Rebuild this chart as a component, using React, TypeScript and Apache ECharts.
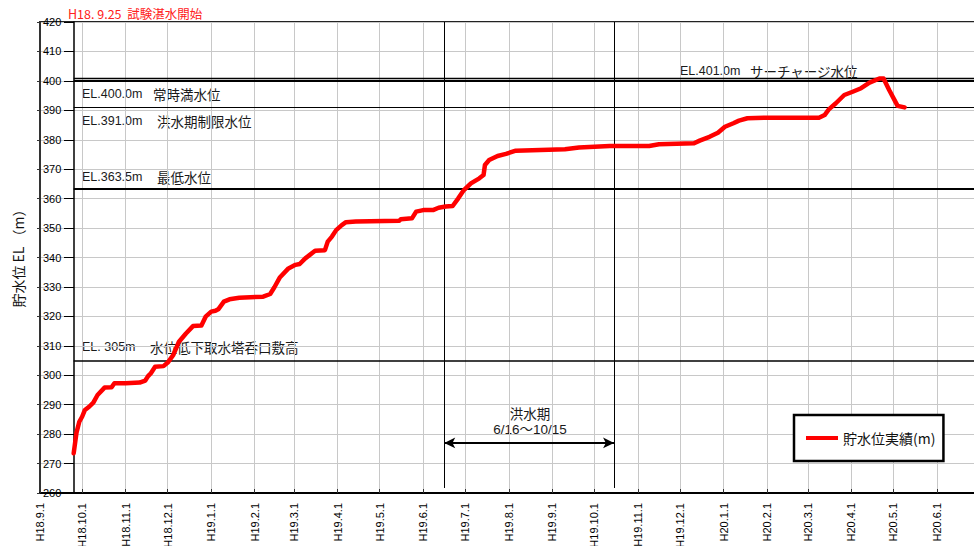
import React, { useEffect, useRef } from "react";
import * as echarts from "echarts";

// ---- data ----
const obsDates = [
  "2006-09-25", "2006-09-27", "2006-09-29", "2006-10-01", "2006-10-03", "2006-10-06", "2006-10-09",
  "2006-10-12", "2006-10-17", "2006-10-22", "2006-10-24", "2006-11-01", "2006-11-11", "2006-11-15",
  "2006-11-17", "2006-11-19", "2006-11-22", "2006-11-28", "2006-12-01", "2006-12-05", "2006-12-09",
  "2006-12-14", "2006-12-19", "2006-12-25", "2006-12-28", "2007-01-01", "2007-01-04", "2007-01-06",
  "2007-01-10", "2007-01-14", "2007-01-21", "2007-02-07", "2007-02-12", "2007-02-15", "2007-02-19",
  "2007-02-25", "2007-03-02", "2007-03-05", "2007-03-09", "2007-03-12", "2007-03-16", "2007-03-23",
  "2007-03-25", "2007-03-28", "2007-03-31", "2007-04-04", "2007-04-07", "2007-04-14", "2007-05-15",
  "2007-05-16", "2007-05-24", "2007-05-27", "2007-06-01", "2007-06-08", "2007-06-12", "2007-06-17",
  "2007-06-22", "2007-06-26", "2007-06-30", "2007-07-05", "2007-07-11", "2007-07-14", "2007-07-15",
  "2007-07-18", "2007-07-24", "2007-07-30", "2007-08-06", "2007-09-10", "2007-09-20", "2007-10-12",
  "2007-11-09", "2007-11-16", "2007-12-11", "2007-12-15", "2007-12-22", "2007-12-28", "2008-01-02",
  "2008-01-08", "2008-01-12", "2008-01-18", "2008-01-31", "2008-03-09", "2008-03-13", "2008-03-16",
  "2008-03-21", "2008-03-27", "2008-04-02", "2008-04-08", "2008-04-14", "2008-04-21", "2008-04-24",
  "2008-04-28", "2008-05-04", "2008-05-09",
];
const obsLevels = [
  273.5, 280.5, 284.2, 285.9, 288.2, 289.3, 290.7,
  293.3, 295.8, 295.9, 297.3, 297.3, 297.5, 298.2,
  299.7, 300.7, 302.9, 303.1, 304.3, 306.9, 311.4,
  314.2, 316.7, 316.9, 319.9, 321.6, 321.9, 322.4,
  325.0, 325.8, 326.3, 326.7, 327.6, 329.9, 333.3,
  336.3, 337.5, 337.8, 339.7, 340.8, 342.3, 342.5,
  345.4, 347.1, 349.3, 351.0, 352.0, 352.2, 352.5,
  353.0, 353.3, 355.6, 356.1, 356.1, 356.9, 357.3,
  357.5, 360.1, 362.9, 365.2, 366.9, 368.0, 371.4,
  373.1, 374.5, 375.2, 376.3, 376.8, 377.4, 377.9,
  377.9, 378.5, 378.8, 379.7, 381.0, 382.4, 384.4,
  385.6, 386.5, 387.3, 387.5, 387.5, 388.4, 390.3,
  392.4, 395.2, 396.3, 397.5, 399.4, 400.8, 400.8,
  396.9, 391.5, 391.0,
];
const seriesName = "貯水位実績(m)";
const axisStart = "2006-09-01";
const axisEnd = "2008-07-01";
const lastLabelDate = "2008-06-01";
const impoundStart = "2006-09-25";
const floodStart = "2007-06-16";
const floodEnd = "2007-10-15";
const levelValues = [401.0, 400.0, 391.0, 363.5, 305.0];
const levelWidths = [1.3, 2, 1, 2, 1.5];
const yMin = 260;
const yMax = 420;
const yStep = 10;
const arrowLevel = 277;
const floodLineBottom = 261.7;

const DAY = 86400000;
const ts = (s: string) => Date.parse(s + "T00:00:00Z");

const LATIN = 'Arial, "Liberation Sans", "Noto Sans CJK JP", sans-serif';
const CJK = '"Noto Sans CJK JP", "Noto Sans CJK SC", sans-serif';

export default function App() {
  const ref = useRef<HTMLDivElement>(null);

  useEffect(() => {
    if (!ref.current) return;
    const chart = echarts.init(ref.current, undefined, { renderer: "svg" });

    const lineData = obsDates.map((d, i) => [ts(d), obsLevels[i]]);

    const levelLines = levelValues.map((v, i) => [
      { coord: [ts(impoundStart), v], lineStyle: { width: levelWidths[i], color: "#000", type: "solid" } },
      { coord: [ts(axisEnd), v] },
    ]);
    const floodLines = [floodStart, floodEnd].map((d) => [
      { coord: [ts(d), yMax], lineStyle: { width: 1, color: "#000", type: "solid" } },
      { coord: [ts(d), floodLineBottom] },
    ]);
    const arrowLine = [
      {
        coord: [ts(floodStart), arrowLevel],
        symbol: "arrow",
        symbolSize: [8, 11],
        lineStyle: { width: 2, color: "#000", type: "solid" },
      },
      { coord: [ts(floodEnd), arrowLevel], symbol: "arrow", symbolSize: [8, 11] },
    ];

    const ann = (x: number, y: number, text: string, font: string, size: number, color = "#1a1a1a", align = "left") => ({
      type: "text",
      x,
      y,
      silent: true,
      style: { text, fill: color, font: `${size}px ${font}`, textAlign: align, textVerticalAlign: "middle" },
    });

    const option: any = {
      animation: false,
      useUTC: true,
      backgroundColor: "#fff",
      grid: {
        left: 40,
        top: 22,
        right: -5,
        bottom: 53,
        containLabel: false,
        outerBoundsMode: "none",
        show: true,
        borderColor: "#222",
        borderWidth: 2,
      },
      xAxis: {
        type: "time",
        min: ts(axisStart),
        max: ts(axisEnd),
        minInterval: 28 * DAY,
        maxInterval: 31 * DAY,
        axisLine: { lineStyle: { color: "#000", width: 2 } },
        axisTick: { inside: true, length: 4, lineStyle: { color: "#333" } },
        axisLabel: {
          rotate: 90,
          fontSize: 11,
          color: "#000",
          margin: 10,
          fontFamily: LATIN,
          hideOverlap: false,
          formatter: (val: number) => {
            const d = new Date(val);
            if (d.getUTCDate() !== 1 || val > ts(lastLabelDate)) return "";
            return `H${d.getUTCFullYear() - 1988}.${d.getUTCMonth() + 1}.1`;
          },
        },
        splitLine: { show: true, lineStyle: { color: "#c8c8c8", width: 1 } },
      },
      yAxis: [
        {
          type: "value",
          min: yMin,
          max: yMax,
          interval: yStep,
          axisLine: { show: true, lineStyle: { color: "#333", width: 2 } },
          axisTick: { show: true, length: 3, lineStyle: { color: "#333" } },
          axisLabel: { inside: true, margin: 3, fontSize: 11, color: "#000", fontFamily: LATIN },
          splitLine: { show: true, lineStyle: { color: "#c8c8c8", width: 1 } },
        },
        {
          type: "value",
          position: "left",
          offset: -34,
          min: yMin,
          max: yMax,
          interval: yStep,
          axisLine: { show: true, lineStyle: { color: "#000", width: 1.5 } },
          axisTick: { show: true, length: 10, lineStyle: { color: "#000" } },
          axisLabel: { show: false },
          splitLine: { show: false },
        },
      ],
      legend: {
        data: [{ name: seriesName, icon: "rect" }],
        left: 794,
        top: 415,
        backgroundColor: "#fff",
        borderColor: "#000",
        borderWidth: 2.5,
        borderRadius: 0,
        padding: [16, 8, 16, 12],
        itemWidth: 32,
        itemHeight: 4,
        selectedMode: false,
        textStyle: { fontSize: 14, color: "#111", fontFamily: CJK },
      },
      series: [
        {
          name: "refs",
          type: "line",
          data: [],
          z: 1,
          silent: true,
          markLine: {
            silent: true,
            symbol: ["none", "none"],
            label: { show: false },
            emphasis: { disabled: true },
            data: [...levelLines, ...floodLines, arrowLine],
          },
        },
        {
          name: seriesName,
          type: "line",
          data: lineData,
          z: 5,
          showSymbol: false,
          symbol: "none",
          color: "#ff0000",
          lineStyle: { color: "#ff0000", width: 4.5, join: "round", cap: "round" },
          itemStyle: { color: "#ff0000" },
        },
      ],
      graphic: [
        ann(68, 13, "H18. 9.25  試験湛水開始", CJK, 12.5, "#ff2020"),
        ann(680, 71, "EL.401.0m", LATIN, 12.5),
        ann(750, 71, "サーチャージ水位", CJK, 13.5),
        ann(82, 94, "EL.400.0m", LATIN, 12.5),
        ann(153, 94, "常時満水位", CJK, 13.5),
        ann(82, 121, "EL.391.0m", LATIN, 12.5),
        ann(157, 121, "洪水期制限水位", CJK, 13.5),
        ann(82, 177, "EL.363.5m", LATIN, 12.5),
        ann(157, 177, "最低水位", CJK, 13.5),
        ann(82, 347, "EL. 305m", LATIN, 12.5),
        ann(150, 347, "水位低下取水塔呑口敷高", CJK, 13.5),
        ann(530, 413, "洪水期", CJK, 13.5, "#1a1a1a", "center"),
        ann(530, 429, "6/16～10/15", LATIN, 13.5, "#1a1a1a", "center"),
        {
          type: "text",
          x: 18,
          y: 255,
          rotation: Math.PI / 2,
          silent: true,
          style: {
            text: "貯水位 EL （m）",
            fill: "#111",
            font: `14px ${CJK}`,
            textAlign: "center",
            textVerticalAlign: "middle",
          },
        },
      ],
    };

    chart.setOption(option);
    return () => chart.dispose();
  }, []);

  return (
    <div
      ref={ref}
      style={{ position: "absolute", left: 0, top: 0, width: 974, height: 546, background: "#fff" }}
    />
  );
}
